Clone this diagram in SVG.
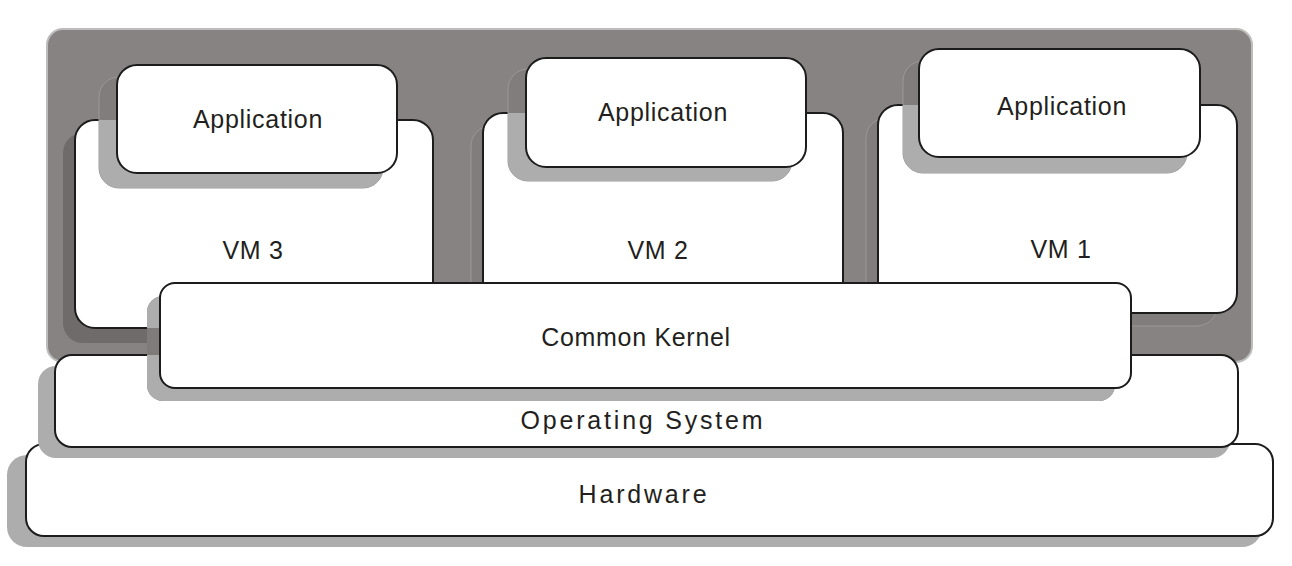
<svg xmlns="http://www.w3.org/2000/svg" width="1292" height="566" viewBox="0 0 1292 566">
<style>
.box{fill:#ffffff;stroke:#1c1c1c;stroke-width:2}
.sh{fill:#adadad}
.shd{fill:#817d7c;stroke:#9c9897;stroke-width:1}
.lbl{font-family:"Liberation Sans",Arial,Helvetica,sans-serif;font-size:25px;fill:#231f20;text-anchor:middle;letter-spacing:0.7px}
.wide{letter-spacing:2.8px}
</style>
<defs>
<clipPath id="cVM3"><rect x="75" y="120" width="358" height="208" rx="20"/></clipPath>
<clipPath id="cVM2"><rect x="483" y="113" width="360" height="208" rx="20"/></clipPath>
<clipPath id="cVM1"><rect x="878" y="105" width="359" height="208" rx="20"/></clipPath>
<clipPath id="cKer"><rect x="75" y="120" width="358" height="208" rx="20"/><rect x="55" y="355" width="1183" height="92" rx="17"/></clipPath>
</defs>
<rect width="1292" height="566" fill="#ffffff"/>
<g id="hardware">
<rect class="sh" x="7" y="455" width="1255" height="92" rx="20"/>
<rect class="box" x="26" y="444" width="1247" height="92" rx="18"/>
<text class="lbl wide" x="644" y="503">Hardware</text>
</g>
<g id="container">
<rect x="47" y="29" width="1205" height="333" rx="16" fill="#878382" stroke="#bcbcbc" stroke-width="2"/>
</g>
<g id="os">
<rect class="sh" x="38" y="366" width="1192" height="92" rx="18"/>
<rect class="box" x="55" y="355" width="1183" height="92" rx="17"/>
<text class="lbl wide" x="643" y="429">Operating System</text>
</g>
<g id="vm3">
<rect x="63" y="133" width="358" height="210" rx="20" fill="#6f6b6a"/>
<rect class="box" x="75" y="120" width="358" height="208" rx="20"/>
<text class="lbl" x="253" y="259">VM 3</text>
</g>
<g id="vm2">
<rect class="shd" x="471" y="126" width="360" height="208" rx="20"/>
<rect class="box" x="483" y="113" width="360" height="208" rx="20"/>
<text class="lbl" x="658" y="259">VM 2</text>
</g>
<g id="vm1">
<rect class="shd" x="866" y="118" width="351" height="208" rx="20"/>
<rect class="box" x="878" y="105" width="359" height="208" rx="20"/>
<text class="lbl" x="1061" y="258">VM 1</text>
</g>
<g id="app3">
<rect class="shd" x="99" y="77" width="284" height="111" rx="20"/>
<rect class="sh" x="99" y="77" width="284" height="111" rx="20" clip-path="url(#cVM3)"/>
<rect class="box" x="117" y="65" width="280" height="108" rx="20"/>
<text class="lbl" x="258" y="128">Application</text>
</g>
<g id="app2">
<rect class="shd" x="508" y="69" width="284" height="112" rx="20"/>
<rect class="sh" x="508" y="69" width="284" height="112" rx="20" clip-path="url(#cVM2)"/>
<rect class="box" x="526" y="58" width="280" height="109" rx="20"/>
<text class="lbl" x="663" y="121">Application</text>
</g>
<g id="app1">
<rect class="shd" x="903" y="61" width="284" height="112" rx="20"/>
<rect class="sh" x="903" y="61" width="284" height="112" rx="20" clip-path="url(#cVM1)"/>
<rect class="box" x="919" y="49" width="281" height="108" rx="20"/>
<text class="lbl" x="1062" y="115">Application</text>
</g>
<g id="kernel">
<rect x="147" y="296" width="968" height="105" rx="16" fill="#7f7b7a"/>
<rect class="sh" x="147" y="296" width="968" height="105" rx="16" clip-path="url(#cKer)"/>
<rect class="box" x="160" y="283" width="971" height="105" rx="15"/>
<text class="lbl" x="636" y="346">Common Kernel</text>
</g>
<g id="connectors"></g>
</svg>
